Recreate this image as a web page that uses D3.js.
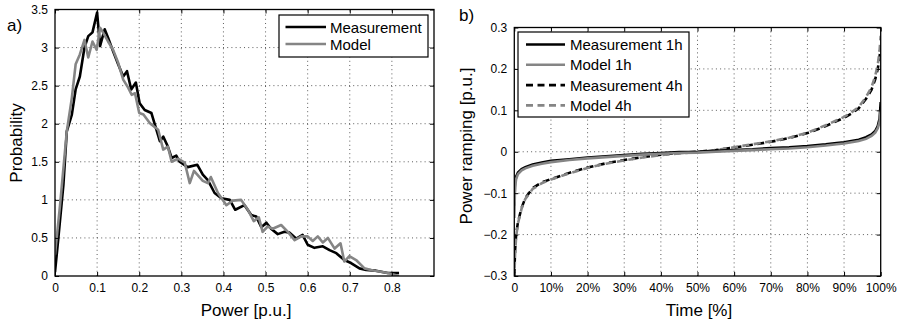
<!DOCTYPE html>
<html>
<head>
<meta charset="utf-8">
<script src="https://cdn.jsdelivr.net/npm/d3@7/dist/d3.min.js"></script>
<style>
  html, body { margin: 0; padding: 0; background: #fff; }
  svg { display: block; font-family: "Liberation Sans", Arial, Helvetica, sans-serif; }
</style>
</head>
<body>
<svg id="chart" width="901" height="323"></svg>
<script>
// ---- a) power distribution: [power p.u., probability density]
const measPdf = [[0,0.05],[0.008,0.5],[0.02,1.2],[0.028,1.9],[0.04,2.12],[0.049,2.45],[0.059,2.62],[0.07,3.0],[0.079,3.15],[0.089,3.2],[0.1,3.46],[0.107,3.02],[0.111,3.1],[0.118,3.24],[0.126,3.13],[0.138,2.95],[0.15,2.78],[0.162,2.62],[0.171,2.69],[0.181,2.45],[0.192,2.54],[0.201,2.27],[0.213,2.18],[0.229,2.14],[0.237,1.99],[0.249,1.77],[0.257,1.83],[0.268,1.70],[0.277,1.55],[0.288,1.58],[0.296,1.50],[0.315,1.43],[0.338,1.46],[0.351,1.33],[0.363,1.26],[0.379,1.09],[0.395,1.02],[0.415,1.0],[0.428,0.87],[0.45,0.93],[0.466,0.80],[0.478,0.78],[0.49,0.64],[0.502,0.70],[0.513,0.62],[0.529,0.55],[0.545,0.58],[0.557,0.57],[0.573,0.49],[0.588,0.54],[0.6,0.41],[0.616,0.37],[0.636,0.39],[0.652,0.34],[0.668,0.30],[0.687,0.21],[0.703,0.17],[0.723,0.10],[0.739,0.08],[0.762,0.07],[0.79,0.04],[0.817,0.04]];
const modelPdf = [[0,0.28],[0.012,0.93],[0.028,1.90],[0.04,2.34],[0.049,2.78],[0.059,2.91],[0.07,3.1],[0.079,2.87],[0.089,3.08],[0.099,2.97],[0.107,3.26],[0.114,3.2],[0.126,3.08],[0.138,2.97],[0.15,2.8],[0.162,2.58],[0.174,2.47],[0.182,2.38],[0.19,2.4],[0.2,2.14],[0.21,2.12],[0.225,2.01],[0.229,1.99],[0.245,1.92],[0.257,1.66],[0.268,1.70],[0.277,1.50],[0.292,1.54],[0.308,1.49],[0.320,1.22],[0.33,1.38],[0.351,1.25],[0.363,1.22],[0.37,1.30],[0.387,1.09],[0.407,0.93],[0.422,0.99],[0.442,1.0],[0.458,0.87],[0.472,0.72],[0.484,0.77],[0.493,0.58],[0.505,0.65],[0.517,0.62],[0.537,0.67],[0.553,0.58],[0.569,0.47],[0.585,0.52],[0.6,0.52],[0.612,0.46],[0.624,0.52],[0.636,0.44],[0.648,0.50],[0.664,0.36],[0.678,0.43],[0.687,0.19],[0.699,0.26],[0.715,0.21],[0.735,0.10],[0.75,0.08],[0.79,0.04],[0.817,0.0]];
const pdfXTicks = [0,0.1,0.2,0.3,0.4,0.5,0.6,0.7,0.8];
const pdfYTicks = [0,0.5,1,1.5,2,2.5,3,3.5];
const pdfLegend = ["Measurement","Model"];

// ---- b) ramping duration curves: time share [%] and ramp [p.u.]
const rampTime = [0,0.2,0.5,1,2,3,5,7.5,10,15,20,25,30,35,40,45,50,55,60,65,70,75,80,85,88,90,92,94,96,97.5,98.5,99.2,99.7,100];
const meas1h  = [-0.13,-0.076,-0.06,-0.05,-0.042,-0.037,-0.031,-0.026,-0.022,-0.018,-0.014,-0.011,-0.008,-0.005,-0.003,-0.001,0.0,0.002,0.004,0.006,0.009,0.011,0.014,0.018,0.021,0.023,0.026,0.029,0.035,0.042,0.05,0.062,0.08,0.12];
const model1h = [-0.16,-0.085,-0.066,-0.054,-0.045,-0.04,-0.034,-0.029,-0.025,-0.02,-0.016,-0.013,-0.01,-0.007,-0.005,-0.003,-0.002,0.0,0.002,0.004,0.006,0.008,0.011,0.015,0.018,0.02,0.023,0.026,0.031,0.038,0.046,0.057,0.072,0.10];
const meas4h  = [-0.3,-0.24,-0.2,-0.17,-0.135,-0.112,-0.088,-0.074,-0.066,-0.051,-0.038,-0.028,-0.02,-0.013,-0.007,-0.003,0.0,0.004,0.01,0.017,0.024,0.033,0.045,0.062,0.074,0.082,0.092,0.105,0.128,0.15,0.175,0.2,0.23,0.25];
const model4h = [-0.31,-0.25,-0.205,-0.173,-0.137,-0.114,-0.09,-0.076,-0.067,-0.052,-0.039,-0.029,-0.021,-0.014,-0.008,-0.004,-0.001,0.004,0.011,0.018,0.025,0.034,0.046,0.064,0.076,0.084,0.095,0.108,0.132,0.156,0.183,0.21,0.245,0.28];
const rampXTicks = [0,10,20,30,40,50,60,70,80,90,100];
const rampYTicks = [-0.3,-0.2,-0.1,0,0.1,0.2,0.3];
const rampLegend = ["Measurement 1h","Model 1h","Measurement 4h","Model 4h"];

const svg = d3.select("#chart");
const GRAY = "#858585";
const DASH = "7,4.5";

function panel(opts) {
  const { x, y, xTicks, yTicks, xFmt, yFmt, id } = opts;
  const [x0, x1] = x.range();
  const [y0, y1] = y.range();
  const g = svg.append("g");

  // dotted grid
  g.append("g").selectAll("line").data(xTicks.filter(t => t !== x.domain()[0] && t !== x.domain()[1]))
    .join("line").attr("x1", d => x(d)).attr("x2", d => x(d)).attr("y1", y0).attr("y2", y1)
    .attr("stroke", "#333").attr("stroke-width", 0.8).attr("stroke-dasharray", "1,3.2");
  g.append("g").selectAll("line").data(yTicks.filter(t => t !== y.domain()[0] && t !== y.domain()[1]))
    .join("line").attr("y1", d => y(d)).attr("y2", d => y(d)).attr("x1", x0).attr("x2", x1)
    .attr("stroke", "#333").attr("stroke-width", 0.8).attr("stroke-dasharray", "1,3.2");

  // clip for the curves
  svg.append("clipPath").attr("id", id).append("rect")
    .attr("x", x0).attr("y", y1).attr("width", x1 - x0).attr("height", y0 - y1);
  const plot = g.append("g").attr("clip-path", `url(#${id})`);

  // axes with inward ticks on all four sides
  const axStyle = a => {
    a.select(".domain").remove();
    a.selectAll(".tick line").attr("stroke", "#000").attr("stroke-width", 1);
    a.selectAll("text").attr("font-size", 12).attr("fill", "#000")
      .attr("font-family", "'Liberation Sans', Arial, Helvetica, sans-serif");
  };
  g.append("g").attr("transform", `translate(0,${y0})`)
    .call(d3.axisBottom(x).tickValues(xTicks).tickFormat(xFmt).tickSizeInner(-4).tickSizeOuter(0).tickPadding(7))
    .call(axStyle);
  g.append("g").attr("transform", `translate(0,${y1})`)
    .call(d3.axisTop(x).tickValues(xTicks).tickFormat("").tickSizeInner(-4).tickSizeOuter(0))
    .call(axStyle);
  g.append("g").attr("transform", `translate(${x0},0)`)
    .call(d3.axisLeft(y).tickValues(yTicks).tickFormat(yFmt).tickSizeInner(-4).tickSizeOuter(0).tickPadding(7))
    .call(axStyle);
  g.append("g").attr("transform", `translate(${x1},0)`)
    .call(d3.axisRight(y).tickValues(yTicks).tickFormat("").tickSizeInner(-4).tickSizeOuter(0))
    .call(axStyle);

  // frame
  g.append("rect").attr("x", x0).attr("y", y1).attr("width", x1 - x0).attr("height", y0 - y1)
    .attr("fill", "none").attr("stroke", "#000").attr("stroke-width", 1.3);
  return { g, plot };
}

function legend(g, x, y, w, h, items, rowH) {
  const lg = g.append("g").attr("transform", `translate(${x},${y})`);
  lg.append("rect").attr("width", w).attr("height", h).attr("fill", "#fff")
    .attr("stroke", "#000").attr("stroke-width", 1.2);
  items.forEach((it, i) => {
    const cy = it.offset + i * rowH;
    lg.append("line").attr("x1", it.lx0).attr("x2", it.lx1).attr("y1", cy).attr("y2", cy)
      .attr("stroke", it.color).attr("stroke-width", 2.6)
      .attr("stroke-dasharray", it.dash || null);
    lg.append("text").attr("x", it.tx).attr("y", cy + 5.5).attr("font-size", 15)
      .attr("fill", "#000").text(it.label);
  });
}

// ===== a) =====
const xa = d3.scaleLinear().domain([0, 0.9]).range([55, 434]);
const ya = d3.scaleLinear().domain([0, 3.5]).range([276, 9.5]);
const A = panel({ x: xa, y: ya, xTicks: pdfXTicks, yTicks: pdfYTicks,
  xFmt: d3.format("~g"), yFmt: d3.format("~g"), id: "clipA" });
const lineA = d3.line().x(d => xa(d[0])).y(d => ya(d[1]));
A.plot.append("path").datum(measPdf).attr("d", lineA).attr("fill", "none")
  .attr("stroke", "#000").attr("stroke-width", 2.6).attr("stroke-linejoin", "round");
A.plot.append("path").datum(modelPdf).attr("d", lineA).attr("fill", "none")
  .attr("stroke", GRAY).attr("stroke-width", 2.6).attr("stroke-linejoin", "round");
legend(A.g, 279, 15, 149, 42, [
  { label: pdfLegend[0], color: "#000", lx0: 6.5, lx1: 47, tx: 51, offset: 12 },
  { label: pdfLegend[1], color: GRAY, lx0: 6.5, lx1: 47, tx: 51, offset: 12 }
], 17);

// ===== b) =====
const xb = d3.scaleLinear().domain([0, 100]).range([514.3, 880.7]);
const yb = d3.scaleLinear().domain([-0.3, 0.3]).range([276, 27.5]);
const B = panel({ x: xb, y: yb, xTicks: rampXTicks, yTicks: rampYTicks,
  xFmt: d => d === 0 ? "0" : d + "%",
  yFmt: d => d === 0 ? "0" : d3.format(".1f")(d), id: "clipB" });
const lineB = vals => d3.line().x((d, i) => xb(rampTime[i])).y(d => yb(d))(vals);
const curves = [
  { v: meas4h, c: "#000", dash: DASH },
  { v: model4h, c: GRAY, dash: DASH },
  { v: meas1h, c: "#000", dash: null },
  { v: model1h, c: GRAY, dash: null }
];
curves.forEach(cv => {
  B.plot.append("path").attr("d", lineB(cv.v)).attr("fill", "none")
    .attr("stroke", cv.c).attr("stroke-width", 2.6).attr("stroke-dasharray", cv.dash);
});
legend(B.g, 518, 32, 171, 85, [
  { label: rampLegend[0], color: "#000", lx0: 8, lx1: 47, tx: 52, offset: 12.5 },
  { label: rampLegend[1], color: GRAY, lx0: 8, lx1: 47, tx: 52, offset: 12.5 },
  { label: rampLegend[2], color: "#000", lx0: 8, lx1: 47, tx: 52, offset: 12.5, dash: DASH },
  { label: rampLegend[3], color: GRAY, lx0: 8, lx1: 47, tx: 52, offset: 12.5, dash: DASH }
], 20.3);

// ===== titles and axis labels =====
const txt = (x, y, s, size, rot) => {
  const t = svg.append("text").attr("font-size", size).attr("fill", "#000").text(s);
  if (rot) t.attr("text-anchor", "middle").attr("transform", `translate(${x},${y}) rotate(-90)`);
  else t.attr("x", x).attr("y", y);
  return t;
};
txt(7, 31, "a)", 17);
txt(459, 21, "b)", 17);
txt(246, 316, "Power [p.u.]", 17).attr("text-anchor", "middle");
txt(699, 316, "Time [%]", 17).attr("text-anchor", "middle");
txt(22, 143, "Probability", 17, true);
txt(472, 146, "Power ramping [p.u.]", 17, true);
</script>
</body>
</html>
